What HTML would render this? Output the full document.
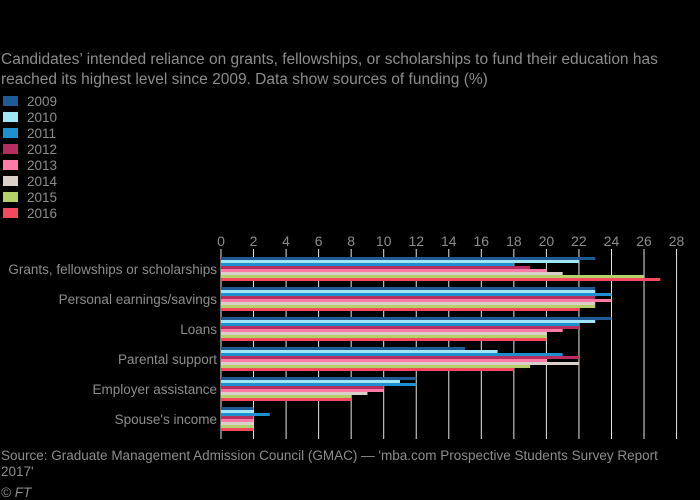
<!DOCTYPE html>
<html><head><meta charset="utf-8"><style>
html,body{margin:0;padding:0;background:#000;}
svg{display:block;font-family:"Liberation Sans",sans-serif;}
</style></head><body>
<svg width="700" height="500" xmlns="http://www.w3.org/2000/svg">
<rect width="700" height="500" fill="#000"/>
<g fill="#8c8c8c" font-size="15.5">
<text x="1" y="64">Candidates’ intended reliance on grants, fellowships, or scholarships to fund their education has</text>
<text x="1" y="84">reached its highest level since 2009. Data show sources of funding (%)</text>
</g>
<g font-size="13.5" fill="#8c8c8c" id="leg"></g>
<g id="grid"></g>
<g id="bars"></g>
<g font-size="13.5" fill="#8c8c8c" text-anchor="end">
<text x="217" y="274">Grants, fellowships or scholarships</text>
<text x="217" y="304">Personal earnings/savings</text>
<text x="217" y="334">Loans</text>
<text x="217" y="364">Parental support</text>
<text x="217" y="394">Employer assistance</text>
<text x="217" y="424">Spouse's income</text>
</g>
<g fill="#8c8c8c" font-size="13.5">
<text x="1" y="460">Source: Graduate Management Admission Council (GMAC) — 'mba.com Prospective Students Survey Report</text>
<text x="1" y="476">2017'</text>
<text x="1" y="497" font-style="italic">© FT</text>
</g>
<script>
var ns="http://www.w3.org/2000/svg";
function el(p,t,a,txt){var e=document.createElementNS(ns,t);for(var k in a)e.setAttribute(k,a[k]);if(txt!=null)e.textContent=txt;p.appendChild(e);return e;}
var cols=["#1f5a94","#a0e6f5","#1e8fcf","#b62e5f","#ff7ba7","#d9d0c9","#b5cf6b","#f5495d"];
var years=[2009,2010,2011,2012,2013,2014,2015,2016];
var leg=document.getElementById("leg");
for(var i=0;i<8;i++){el(leg,"rect",{x:3,y:96+i*16,width:15,height:10,fill:cols[i]});el(leg,"text",{x:27,y:106+i*16},years[i]);}
var x0=221,u=16.27;
var g=document.getElementById("grid");
for(var t=0;t<=28;t+=2){var x=x0+t*u;el(g,"line",{x1:x,x2:x,y1:249,y2:439,stroke:"#e8e4e0","stroke-width":1});
el(g,"text",{x:x,y:246,"text-anchor":"middle",fill:"#8c8c8c","font-size":"14"},t);}
var data=[[23,22,18,19,20,21,26,27],[23,23,24,23,24,23,23,22],[24,23,22,22,21,20,20,20],[15,17,21,22,20,22,19,18],[12,11,12,10,10,9,8,8],[2,2,3,2,2,2,2,2]];
var b=document.getElementById("bars");
for(var gi=0;gi<6;gi++)for(var i=0;i<8;i++){el(b,"rect",{x:x0,y:257+gi*30+i*3,width:data[gi][i]*u,height:3,fill:cols[i]});}
</script>
</svg>
</body></html>
